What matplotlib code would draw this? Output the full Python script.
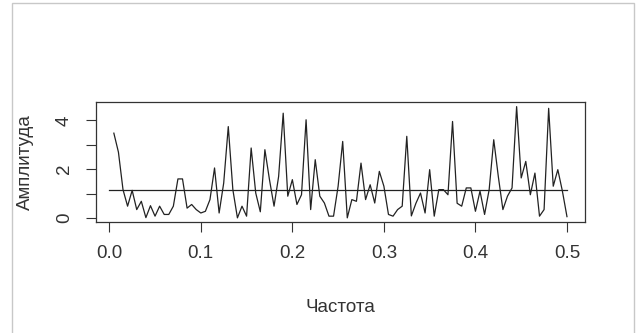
import numpy as np
import matplotlib.pyplot as plt
from matplotlib.patches import Rectangle

plt.rcParams['font.family'] = ['Liberation Sans', 'DejaVu Sans']

# frequencies k/200, k = 1..100
freq = np.arange(1, 101) / 200.0
amp = [3.48, 2.7, 1.16, 0.48, 1.13, 0.34, 0.68, 0.01, 0.5, 0.07,
       0.48, 0.14, 0.14, 0.48, 1.6, 1.6, 0.4, 0.55, 0.34, 0.2,
       0.27, 0.75, 2.05, 0.2, 1.43, 3.75, 1.16, 0.0, 0.48, 0.07,
       2.87, 1.02, 0.25, 2.8, 1.57, 0.48, 1.7, 4.3, 0.89, 1.57,
       0.55, 0.95, 4.03, 0.34, 2.39, 0.89, 0.61, 0.07, 0.07, 1.3,
       3.14, 0.0, 0.75, 0.68, 2.25, 0.75, 1.36, 0.61, 1.91, 1.3,
       0.14, 0.07, 0.34, 0.48, 3.35, 0.08, 0.6, 1.02, 0.2, 1.98,
       0.07, 1.16, 1.16, 0.95, 3.96, 0.6, 0.48, 1.23, 1.23, 0.27,
       1.1, 0.14, 1.16, 3.21, 1.7, 0.34, 0.89, 1.23, 4.57, 1.64,
       2.32, 0.95, 1.84, 0.07, 0.34, 4.5, 1.3, 1.98, 1.1, 0.05]
level = 1.15
xticks = [0.0, 0.1, 0.2, 0.3, 0.4, 0.5]
xticklabels = ['0.0', '0.1', '0.2', '0.3', '0.4', '0.5']
yticks = [0, 1, 2, 3, 4]
yticklabels = ['0', '', '2', '', '4']

fig = plt.figure(figsize=(6.4, 3.33), dpi=100)
ax = fig.add_axes([96 / 640, 1 - 222 / 333, (585 - 96) / 640, (222 - 102) / 333])

ax.plot(freq, amp, color='#222222', lw=0.9)
ax.plot([0.0, 0.5], [level, level], color='#222222', lw=0.9)

ax.set_xlim(-0.0145, 0.5197)
ax.set_ylim(-0.17, 4.76)
ax.set_xticks(xticks)
ax.set_xticklabels(xticklabels)
ax.set_yticks(yticks)
ax.set_yticklabels(yticklabels, rotation=90, va='center')
ax.tick_params(direction='out', length=7.5, width=0.8, color='#333333',
               labelsize=13.5, labelcolor='#333333', pad=9)
for s in ax.spines.values():
    s.set_color('#333333')
    s.set_linewidth(0.9)

ax.set_xlabel('Частота', fontsize=13.5, color='#333333', labelpad=27)
ax.set_ylabel('Амплитуда', fontsize=13.5, color='#333333', labelpad=16)

# light window frame
fig.patches.append(Rectangle((12 / 640, -0.01), (634 - 12) / 640, 1 - 3 / 333 + 0.01,
                             transform=fig.transFigure, fill=False,
                             edgecolor='#c8c8c8', lw=1))

fig.savefig('out.png', dpi=100)
